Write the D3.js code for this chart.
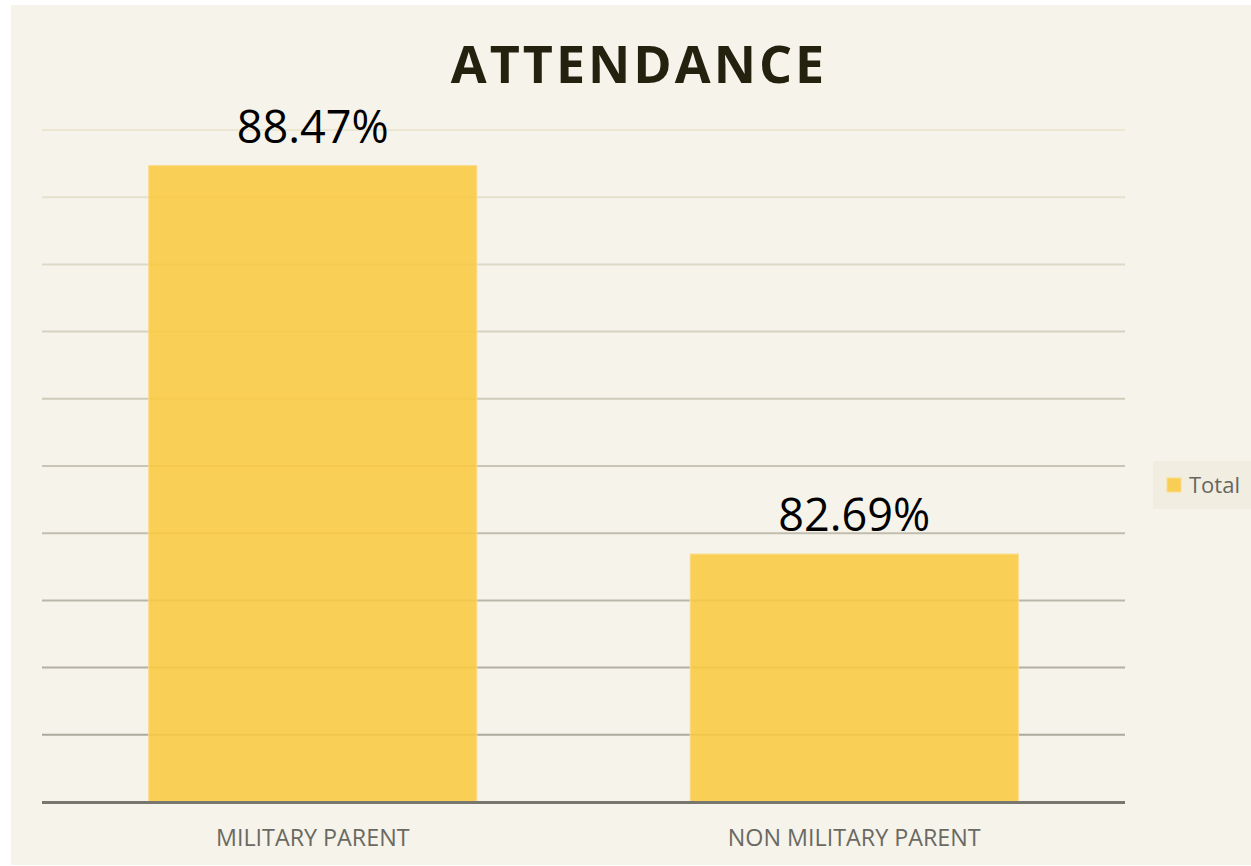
<!DOCTYPE html>
<html>
<head>
<meta charset="utf-8">
<script src="https://cdn.jsdelivr.net/npm/d3@7"></script>
<style>
html,body{margin:0;padding:0;background:#ffffff;}
svg{display:block;}
</style>
</head>
<body>
<svg id="chart" width="1251" height="866"></svg>
<script>
const categories = ["MILITARY PARENT", "NON MILITARY PARENT"];
const values = [88.47, 82.69];
const valueLabels = ["88.47%", "82.69%"];
const yTicks = [79, 80, 81, 82, 83, 84, 85, 86, 87, 88, 89];
const seriesName = "Total";
const title = "ATTENDANCE";

const svg = d3.select("#chart");
const W = 1251, H = 866;
const m = {left: 42, right: 126, top: 130, bottom: 64};

svg.append("rect").attr("x", 11).attr("y", 5).attr("width", W - 11).attr("height", 860)
  .attr("fill", "#f6f3eb");

const x = d3.scaleBand().domain(categories).range([m.left, W - m.right]).paddingInner(0.394).paddingOuter(0.197);
const y = d3.scaleLinear().domain([79, 89]).range([802, 130]);

const gridColor = d3.scaleLinear().domain([89, 80]).range(["#ebe7d3", "#aca99d"]);

// gridlines
svg.append("g").selectAll("line").data(yTicks.filter(d => d > 79)).join("line")
  .attr("x1", m.left).attr("x2", W - m.right)
  .attr("y1", d => y(d)).attr("y2", d => y(d))
  .attr("stroke", d => gridColor(d)).attr("stroke-width", 2);

// bars
svg.append("g").selectAll("rect").data(values).join("rect")
  .attr("x", (d, i) => x(categories[i]))
  .attr("width", x.bandwidth())
  .attr("y", d => y(d))
  .attr("height", d => y(79) - y(d))
  .attr("fill", "#f9c940").attr("fill-opacity", 0.88)
  .attr("stroke", "#fbdc8a").attr("stroke-width", 1);

// baseline
svg.append("line").attr("x1", m.left).attr("x2", W - m.right)
  .attr("y1", y(79) + 0.5).attr("y2", y(79) + 0.5)
  .attr("stroke", "#77776f").attr("stroke-width", 3);

// value labels
svg.append("g").selectAll("text").data(values).join("text")
  .attr("x", (d, i) => x(categories[i]) + x.bandwidth() / 2)
  .attr("y", d => y(d) - 23)
  .attr("text-anchor", "middle")
  .attr("font-family", "Open Sans, sans-serif")
  .attr("font-size", 45)
  .attr("fill", "#000000")
  .text((d, i) => valueLabels[i]);

// category labels
svg.append("g").selectAll("text").data(categories).join("text")
  .attr("x", d => x(d) + x.bandwidth() / 2)
  .attr("y", 846)
  .attr("text-anchor", "middle")
  .attr("font-family", "Open Sans, sans-serif")
  .attr("font-size", 23.3)
  .attr("fill", "#6a6962")
  .text(d => d);

// title
svg.append("text")
  .attr("x", 639).attr("y", 83)
  .attr("text-anchor", "middle")
  .attr("font-family", "Open Sans, sans-serif")
  .attr("font-weight", "bold")
  .attr("font-size", 52)
  .attr("letter-spacing", 3)
  .attr("fill", "#24220f")
  .text(title);

// legend
const lg = svg.append("g");
lg.append("rect").attr("x", 1153).attr("y", 461).attr("width", 98).attr("height", 48).attr("fill", "#f1ede1");
lg.append("rect").attr("x", 1167).attr("y", 478).attr("width", 14).attr("height", 14)
  .attr("fill", "#f9c940").attr("fill-opacity", 0.88).attr("stroke", "#fbdc8a");
lg.append("text").attr("x", 1189).attr("y", 493)
  .attr("font-family", "Open Sans, sans-serif").attr("font-size", 22).attr("fill", "#67665f")
  .text(seriesName);
</script>
</body>
</html>
